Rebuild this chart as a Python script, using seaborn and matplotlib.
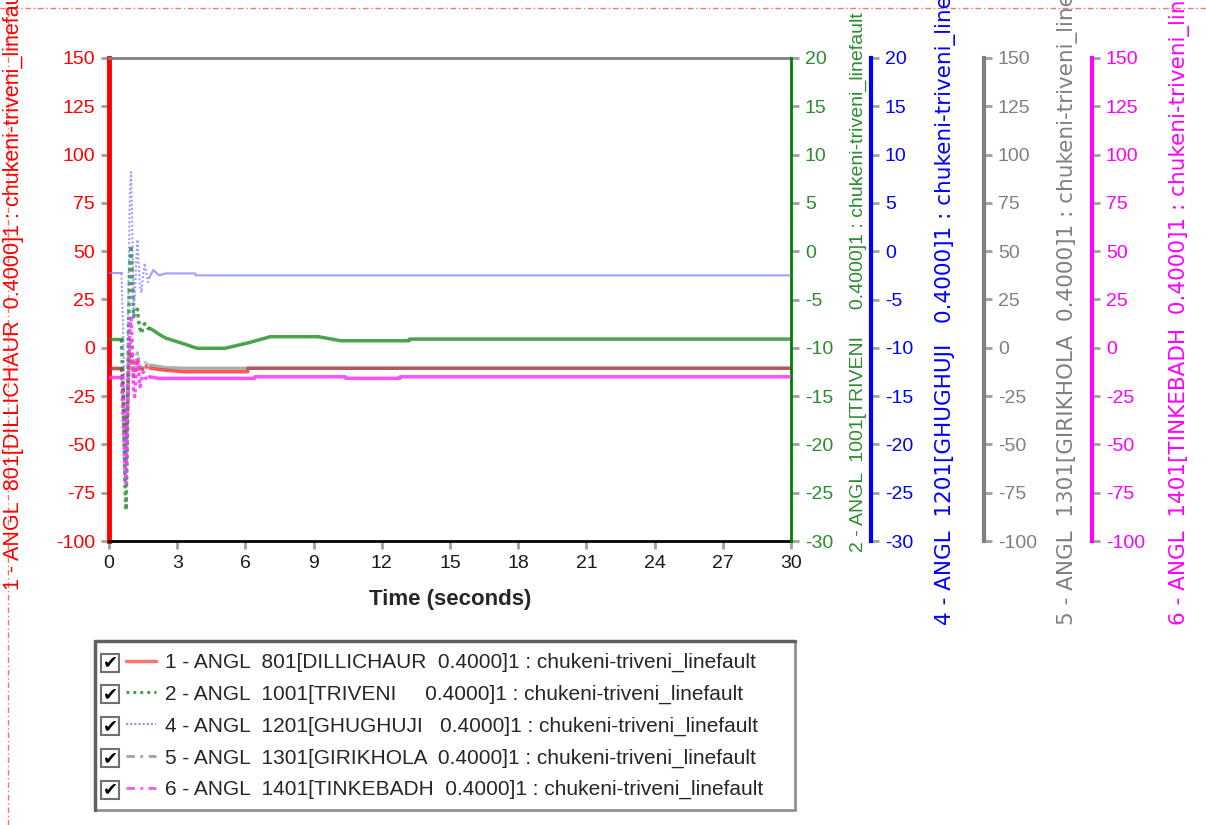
import numpy as np
import pandas as pd
import matplotlib
matplotlib.use("Agg")
import matplotlib.pyplot as plt
import seaborn as sns
from matplotlib.lines import Line2D
from matplotlib.patches import Rectangle

# time breakpoints (s) shared by all channels
time_s = [0, 0.55, 0.62, 0.70, 0.75, 0.80, 0.86, 0.92, 0.97, 1.02, 1.08, 1.13,
          1.20, 1.25, 1.30, 1.36, 1.43, 1.50, 1.57, 1.65, 1.72, 1.80, 1.95, 2.2,
          2.5, 3.3, 3.31, 3.8, 3.81, 3.9, 5.1, 6.1, 6.11, 6.4, 6.41, 7.1, 9.2,
          10.2, 10.4, 10.41, 12.8, 12.81, 13.2, 13.21, 30]

angl_801 = [-10.6, -10.6, -22, -40, -45, -32, -12, -3, -2, -6, -15, -14,
            -8, -6, -9, -12, -12.5, -10.5, -9, -10, -10.8, -10.5, -10.8, -11.2,
            -11.6, -12.4, -12.4, -12.4, -12.4, -12.4, -12.4, -12.4, -10.6, -10.6, -10.6, -10.6, -10.6,
            -10.6, -10.6, -10.6, -10.6, -10.6, -10.6, -10.6, -10.6]
angl_1001 = [-9.1, -9.1, -14, -24, -26.8, -20, -8, -1, 0.6, -2, -6.8, -6.5,
             -6.2, -6.0, -7.2, -8.0, -8.5, -7.8, -7.5, -7.8, -8.0, -8.0, -8.2, -8.6,
             -9.0, -9.6, -9.6, -10.0, -10.0, -10.05, -10.05, -9.5, -9.5, -9.3, -9.3, -8.85, -8.85,
             -9.27, -9.27, -9.27, -9.27, -9.27, -9.27, -9.1, -9.1]
angl_1201 = [-2.3, -2.3, -8, -18, -23, -15, -3, 6, 8.2, 3, -6.8, -5,
             -1, 1.2, -1, -3.5, -4.3, -2.5, -1.25, -2.4, -3.2, -2.6, -1.95, -2.5,
             -2.3, -2.3, -2.3, -2.3, -2.5, -2.5, -2.5, -2.5, -2.5, -2.5, -2.5, -2.5, -2.5,
             -2.5, -2.5, -2.5, -2.5, -2.5, -2.5, -2.5, -2.5]
angl_1301 = [-10.6, -10.6, -25, -50, -60, -40, -15, 0, 5, -2, -14, -12,
             -5, -2.7, -6, -10, -11.5, -9.5, -7.9, -8.5, -9.2, -9.0, -9.2, -9.8,
             -10.3, -10.6, -10.6, -10.6, -10.6, -10.6, -10.6, -10.6, -10.6, -10.6, -10.6, -10.6, -10.6,
             -10.6, -10.6, -10.6, -10.6, -10.6, -10.6, -10.6, -10.6]
angl_1401 = [-15, -15, -35, -62, -70, -50, -10, 10, 15.3, 0, -22, -25.3,
             -10, -5.4, -12, -20.1, -17, -12.4, -14, -16.7, -16, -15, -15.4, -15.8,
             -15.8, -15.8, -15.8, -15.8, -15.8, -15.8, -15.8, -15.8, -15.8, -15.8, -15.0, -15.0, -15.0,
             -15.0, -15.0, -15.8, -15.8, -15.0, -15.0, -15.0, -15.0]

labels = [
    "1 - ANGL  801[DILLICHAUR  0.4000]1 : chukeni-triveni_linefault",
    "2 - ANGL  1001[TRIVENI     0.4000]1 : chukeni-triveni_linefault",
    "4 - ANGL  1201[GHUGHUJI   0.4000]1 : chukeni-triveni_linefault",
    "5 - ANGL  1301[GIRIKHOLA  0.4000]1 : chukeni-triveni_linefault",
    "6 - ANGL  1401[TINKEBADH  0.4000]1 : chukeni-triveni_linefault",
]
x_ticks = list(range(0, 31, 3))

sns.set_style("ticks")
plt.rcParams['font.family'] = ['Liberation Sans', 'DejaVu Sans']
plt.rcParams['axes.unicode_minus'] = False

W, H = 1206, 825
fig = plt.figure(figsize=(W / 100, H / 100), dpi=100)
L, R, T, B = 109, 791, 58, 541
ax = fig.add_axes([L / W, 1 - B / H, (R - L) / W, (B - T) / H])

df = pd.DataFrame({"t": time_s, "a801": angl_801, "a1001": angl_1001,
                   "a1201": angl_1201, "a1301": angl_1301, "a1401": angl_1401})
tr = df.iloc[1:22]          # fast transient part, drawn dotted
st1 = df.iloc[:2]
st2 = df.iloc[21:]

ax2 = ax.twinx()
ax4 = ax.twinx()
ax5 = ax.twinx()
ax6 = ax.twinx()

spec = [
    # axis, column, color, alpha, lw, ylim, step, spine pos, tick color, font
    (ax, "a801", "#FF3030", 0.8, 2.5, (-100, 150), 25, None, "red", "Liberation Sans"),
    (ax2, "a1001", "#1E8C1E", 0.8, 2.5, (-30, 20), 5, 1.0, "#2E8B2E", "Liberation Sans"),
    (ax4, "a1201", "#7878FF", 0.7, 1.5, (-30, 20), 5, (871 - L) / (R - L), "blue", "DejaVu Sans"),
    (ax5, "a1301", "#606060", 0.5, 2.5, (-100, 150), 25, (984 - L) / (R - L), "#808080", "DejaVu Sans"),
    (ax6, "a1401", "#FF30FF", 0.85, 2.5, (-100, 150), 25, (1092 - L) / (R - L), "#FF00FF", "DejaVu Sans"),
]

for a, col, c, al, lw, yl, step, pos, tc, fam in spec:
    sns.lineplot(data=tr, x="t", y=col, ax=a, color=c, alpha=al, lw=lw,
                 linestyle=(0, (1, 1)), estimator=None, sort=False)
    for part in (st1, st2):
        sns.lineplot(data=part, x="t", y=col, ax=a, color=c, alpha=al, lw=lw,
                     estimator=None, sort=False)
    a.set_ylim(*yl)
    a.set_yticks(np.arange(yl[0], yl[1] + 1, step))
    a.set_ylabel("")
    a.set_xlabel("")
    a.tick_params(axis="y", colors="#A0A0A0", labelcolor=tc, length=6, width=2,
                  labelsize=14, pad=4)
    for lab in a.get_yticklabels():
        lab.set_fontfamily(fam)
    if a is not ax:
        for s in ("top", "bottom", "left"):
            a.spines[s].set_visible(False)
        a.spines["right"].set_position(("axes", pos))
        a.spines["right"].set_color(tc if a is not ax2 else "green")
        a.spines["right"].set_linewidth(3 if a is not ax2 else 2)
        a.grid(False)

ax.set_xlim(0, 30)
ax.set_xticks(x_ticks)
ax.tick_params(axis="x", colors="#A0A0A0", labelcolor="#1A1A1A", length=6, width=2,
               labelsize=14, pad=4)
ax.spines["left"].set_color("red")
ax.spines["left"].set_linewidth(3.5)
ax.spines["bottom"].set_color("black")
ax.spines["bottom"].set_linewidth(2)
ax.spines["top"].set_color("#808080")
ax.spines["top"].set_linewidth(2)
ax.spines["top"].set_visible(True)
ax.spines["right"].set_visible(False)
ax.set_xlabel("Time (seconds)", fontsize=16, fontweight="bold", labelpad=12)

# rotated channel titles beside each axis (run off the top edge as in the original)
def vlabel(xpx, ypx, text, color, fam, size):
    fig.text(xpx / W, 1 - ypx / H, text, rotation=90, ha="center", va="bottom",
             color=color, fontsize=size, family=fam)

vlabel(14, 590, labels[0], "red", "Liberation Sans", 15.5)
vlabel(858, 552, labels[1], "#2E8B2E", "Liberation Sans", 14)
vlabel(946, 625, labels[2], "blue", "DejaVu Sans", 15.5)
vlabel(1068, 625, labels[3], "#808080", "DejaVu Sans", 15.5)
vlabel(1179, 625, labels[4], "#FF00FF", "DejaVu Sans", 15.5)

# dashed page border (top and left)
fig.add_artist(Line2D([0, 1], [1 - 8 / H, 1 - 8 / H], transform=fig.transFigure,
                      color="#FF7070", lw=1, linestyle=(0, (4, 2, 1, 2))))
fig.add_artist(Line2D([8 / W, 8 / W], [0, 1], transform=fig.transFigure,
                      color="#FF7070", lw=1, linestyle=(0, (4, 2, 1, 2))))

# legend
handles = [
    Line2D([], [], color="#FF5050", lw=2.5, alpha=0.8),
    Line2D([], [], color="#2E9B2E", lw=2, linestyle=(0, (1, 1.5))),
    Line2D([], [], color="#9090FF", lw=1.5, linestyle=(0, (1, 1))),
    Line2D([], [], color="#A0A0A0", lw=2, linestyle=(0, (3, 2, 1, 2))),
    Line2D([], [], color="#FF50FF", lw=2, linestyle=(0, (3, 2, 1, 2))),
]
fig.add_artist(Rectangle((95 / W, 1 - 810 / H), 700 / W, 169 / H, transform=fig.transFigure,
                         facecolor="white", edgecolor="#909090", lw=2))
fig.add_artist(Line2D([95 / W, 95 / W, 795 / W], [1 - 810 / H, 1 - 641 / H, 1 - 641 / H],
                      transform=fig.transFigure, color="#606060", lw=2.5))
leg = fig.legend(handles, labels, loc="upper left", bbox_to_anchor=(126 / W, 1 - 653 / H),
                 frameon=False, fontsize=15, handlelength=1.45, handletextpad=0.4,
                 labelspacing=0.6, borderpad=0, borderaxespad=0)

fig.canvas.draw()
inv = fig.transFigure.inverted()
for txt in leg.get_texts():
    bb = txt.get_window_extent()
    yc = inv.transform((0, (bb.y0 + bb.y1) / 2))[1]
    fig.add_artist(Rectangle((101 / W, yc - 9 / H), 18 / W, 18 / H, transform=fig.transFigure,
                             facecolor="white", edgecolor="#707070", lw=1.5))
    fig.text(110 / W, yc, "\u2714", ha="center", va="center", fontsize=13,
             family="DejaVu Sans", color="black")

fig.savefig("out.png", dpi=100)
plt.close(fig)
